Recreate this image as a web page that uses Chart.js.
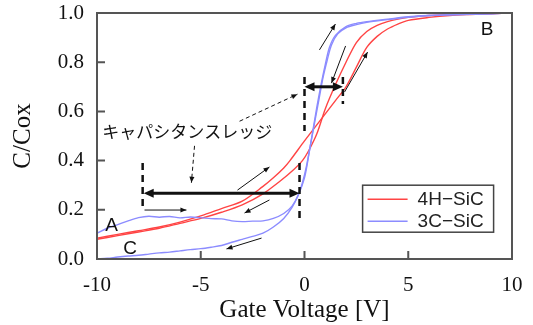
<!DOCTYPE html>
<html>
<head>
    <title>C/Cox vs Gate Voltage</title>
    <script src="https://cdn.jsdelivr.net/npm/chart.js"></script>
    <style>
        html, body { margin: 0; padding: 0; background: #fff; }
        #wrap { width: 533px; height: 325px; }
    </style>
</head>
<body>
    <div id="wrap"><canvas id="cvChart"></canvas></div>

    <script>
        // 4H-SiC, two sweep directions
        const red1X = [-10, -9, -8, -7, -6, -5, -4, -3, -2, -1.5, -1, -0.7, 0, 0.5, 1, 1.5, 2, 2.5, 3, 3.5, 4, 4.5, 5, 6, 7, 8, 9, 10];
        const red1Y = [0.085, 0.1, 0.115, 0.13, 0.15, 0.175, 0.205, 0.235, 0.295, 0.33, 0.37, 0.40, 0.48, 0.535, 0.59, 0.645, 0.70, 0.78, 0.86, 0.905, 0.935, 0.955, 0.97, 0.982, 0.99, 0.994, 0.997, 1.0];
        const red2X = [-10, -9, -8, -7, -6, -5, -4, -3, -2, -1.2, -0.5, -0.1, 0.2, 0.6, 1.0, 1.5, 2.0, 2.5, 3, 3.5, 4, 4.5, 5, 6, 7, 8, 10];
        const red2Y = [0.08, 0.095, 0.11, 0.125, 0.145, 0.165, 0.19, 0.22, 0.265, 0.315, 0.365, 0.40, 0.44, 0.51, 0.61, 0.71, 0.80, 0.88, 0.925, 0.95, 0.965, 0.975, 0.982, 0.99, 0.994, 0.997, 1.0];
        // 3C-SiC, branch from A and branch from C
        const blue1X = [-10, -9.5, -9, -8.5, -8, -7.5, -7, -6.5, -6, -5.5, -5, -4.5, -4, -3.5, -3, -2.5, -2, -1.5, -1, -0.6, -0.3, 0, 0.2, 0.4, 0.6, 0.8, 1.0, 1.2, 1.5, 2, 2.5, 3, 4, 5, 6, 7, 8, 9, 10];
        const blue1Y = [0.105, 0.125, 0.14, 0.155, 0.168, 0.174, 0.17, 0.173, 0.167, 0.171, 0.168, 0.164, 0.163, 0.155, 0.152, 0.154, 0.155, 0.165, 0.185, 0.215, 0.26, 0.33, 0.42, 0.52, 0.62, 0.71, 0.79, 0.86, 0.91, 0.945, 0.958, 0.965, 0.975, 0.985, 0.99, 0.993, 0.995, 0.997, 1.0];
        const blue2X = [-10, -9.5, -9, -8.5, -8, -7.5, -7, -6.5, -6, -5.5, -5, -4.5, -4, -3.5, -3, -2.5, -2, -1.5, -1, -0.6, -0.3, -0.1, 0.1, 0.3, 0.5, 0.7, 0.9, 1.1, 1.3, 1.6, 2, 2.5, 3, 4, 5, 6, 7, 8, 9, 10];
        const blue2Y = [0.0, 0.003, 0.008, 0.012, 0.015, 0.02, 0.025, 0.028, 0.033, 0.038, 0.042, 0.048, 0.055, 0.068, 0.08, 0.092, 0.105, 0.13, 0.165, 0.21, 0.26, 0.31, 0.38, 0.47, 0.56, 0.65, 0.74, 0.81, 0.87, 0.915, 0.94, 0.953, 0.962, 0.973, 0.983, 0.99, 0.993, 0.995, 0.997, 1.0];

        const xTicks = [-10, -5, 0, 5, 10];
        const yTicks = [0, 0.2, 0.4, 0.6, 0.8, 1.0];

        // annotations, in data units [x1, y1, x2, y2]
        const sweepArrows = [
            [0.72, 0.85, 1.49, 0.955],
            [1.98, 0.866, 1.30, 0.715],
            [1.93, 0.679, 3.04, 0.841],
            [-3.23, 0.28, -1.69, 0.374],
            [-1.69, 0.24, -2.89, 0.187],
            [-2.07, 0.085, -3.76, 0.041],
            [-7.71, 0.199, -5.69, 0.199]
        ];
        const ledgeArrows = [
            [-7.75, 0.267, -0.24, 0.267],
            [0.0, 0.70, 1.85, 0.70]
        ];
        const ledgeDashes = [
            [-7.8, 0.39, -7.8, 0.20],
            [-0.24, 0.39, -0.24, 0.16],
            [0.0, 0.74, 0.0, 0.52],
            [1.85, 0.74, 1.85, 0.63]
        ];
        const pointerArrows = [
            [-3.13, 0.56, -0.34, 0.67],
            [-5.3, 0.46, -5.45, 0.31]
        ];
        const ledgeLabel = 'キャパシタンスレッジ';
        const ledgeLabelPos = [-9.75, 0.52];
        const pointLabels = ['A', 'B', 'C'];
        const pointLabelX = [-9.3, 8.8, -8.4];
        const pointLabelY = [0.135, 0.93, 0.04];

        const RED = '#ff4444';
        const BLUE = '#8c8cff';

        function pts(xs, ys) {
            return xs.map((v, i) => ({ x: v, y: ys[i] }));
        }

        function head(ctx, x1, y1, x2, y2, len, w) {
            const a = Math.atan2(y2 - y1, x2 - x1);
            const c = Math.cos(a), s = Math.sin(a);
            ctx.beginPath();
            ctx.moveTo(x2, y2);
            ctx.lineTo(x2 - len * c + w * s, y2 - len * s - w * c);
            ctx.lineTo(x2 - len * c - w * s, y2 - len * s + w * c);
            ctx.closePath();
            ctx.fill();
        }

        const extras = {
            id: 'extras',
            afterDatasetsDraw(chart) {
                const { ctx, chartArea: a, scales: { x, y } } = chart;
                const px = v => x.getPixelForValue(v);
                const py = v => y.getPixelForValue(v);
                ctx.save();

                // frame + inward ticks
                ctx.strokeStyle = '#555';
                ctx.lineWidth = 2;
                ctx.strokeRect(a.left, a.top, a.right - a.left, a.bottom - a.top);
                ctx.beginPath();
                xTicks.forEach(v => { ctx.moveTo(px(v), a.bottom); ctx.lineTo(px(v), a.bottom - 8); });
                yTicks.forEach(v => { ctx.moveTo(a.left, py(v)); ctx.lineTo(a.left + 8, py(v)); });
                ctx.stroke();

                ctx.strokeStyle = '#111';
                ctx.fillStyle = '#111';

                // thin sweep arrows
                ctx.lineWidth = 1;
                sweepArrows.forEach(s => {
                    const [x1, y1, x2, y2] = [px(s[0]), py(s[1]), px(s[2]), py(s[3])];
                    ctx.beginPath(); ctx.moveTo(x1, y1); ctx.lineTo(x2, y2); ctx.stroke();
                    head(ctx, x1, y1, x2, y2, 6, 2.5);
                });

                // thick dashed ledge bounds
                ctx.lineWidth = 2.5;
                ctx.setLineDash([7, 5]);
                ledgeDashes.forEach(s => {
                    ctx.beginPath(); ctx.moveTo(px(s[0]), py(s[1])); ctx.lineTo(px(s[2]), py(s[3])); ctx.stroke();
                });
                ctx.setLineDash([]);

                // double arrows
                ctx.lineWidth = 3;
                ledgeArrows.forEach(s => {
                    const [x1, y1, x2, y2] = [px(s[0]), py(s[1]), px(s[2]), py(s[3])];
                    ctx.beginPath(); ctx.moveTo(x1 + 6, y1); ctx.lineTo(x2 - 6, y2); ctx.stroke();
                    head(ctx, x1, y1, x2, y2, 10, 4.5);
                    head(ctx, x2, y2, x1, y1, 10, 4.5);
                });

                // thin dashed pointers
                ctx.lineWidth = 1;
                ctx.setLineDash([4, 3]);
                pointerArrows.forEach(s => {
                    const [x1, y1, x2, y2] = [px(s[0]), py(s[1]), px(s[2]), py(s[3])];
                    ctx.beginPath(); ctx.moveTo(x1, y1); ctx.lineTo(x2, y2); ctx.stroke();
                });
                ctx.setLineDash([]);
                pointerArrows.forEach(s => {
                    head(ctx, px(s[0]), py(s[1]), px(s[2]), py(s[3]), 6, 2.5);
                });

                // text
                ctx.textBaseline = 'middle';
                ctx.textAlign = 'left';
                ctx.font = '17px "Noto Sans CJK JP"';
                ctx.fillText(ledgeLabel, px(ledgeLabelPos[0]), py(ledgeLabelPos[1]));
                ctx.font = '19px "Liberation Sans"';
                ctx.textAlign = 'center';
                pointLabels.forEach((t, i) => ctx.fillText(t, px(pointLabelX[i]), py(pointLabelY[i])));

                // legend box
                const lx = a.left + (a.right - a.left) * 0.64;
                const ly = a.top + (a.bottom - a.top) * 0.70;
                ctx.strokeStyle = '#444';
                ctx.lineWidth = 1.5;
                ctx.strokeRect(lx, ly, 131, 47);
                const items = [chart.data.datasets[2], chart.data.datasets[0]];
                ctx.textAlign = 'left';
                ctx.fillStyle = '#222';
                items.forEach((d, i) => {
                    const yy = ly + 14 + i * 22;
                    ctx.strokeStyle = d.borderColor;
                    ctx.lineWidth = 1.5;
                    ctx.beginPath(); ctx.moveTo(lx + 5, yy); ctx.lineTo(lx + 45, yy); ctx.stroke();
                    ctx.fillText(d.label, lx + 55, yy + 1);
                });
                ctx.restore();
            }
        };

        const serif = '"Liberation Serif", "Times New Roman", serif';

        new Chart(document.getElementById('cvChart'), {
            type: 'scatter',
            data: {
                datasets: [
                    { label: '3C\u2212SiC', data: pts(blue1X, blue1Y), borderColor: BLUE },
                    { label: '3C\u2212SiC', data: pts(blue2X, blue2Y), borderColor: BLUE },
                    { label: '4H\u2212SiC', data: pts(red1X, red1Y), borderColor: RED },
                    { label: '4H\u2212SiC', data: pts(red2X, red2Y), borderColor: RED }
                ].map(d => Object.assign(d, {
                    showLine: true, pointRadius: 0, borderWidth: 1.4, tension: 0.3, fill: false
                }))
            },
            options: {
                responsive: true,
                maintainAspectRatio: false,
                animation: false,
                layout: { padding: { top: 13, right: 21, left: 0, bottom: 0 } },
                plugins: { legend: { display: false }, tooltip: { enabled: false } },
                scales: {
                    x: {
                        type: 'linear', min: -10, max: 10,
                        afterFit: s => { s.height = 66; s.paddingLeft = 0; s.paddingRight = 0; },
                        afterBuildTicks: s => { s.ticks = xTicks.map(v => ({ value: v })); },
                        grid: { display: false },
                        border: { display: false },
                        ticks: { color: '#111', padding: 6, font: { family: serif, size: 21 } },
                        title: { display: true, text: 'Gate Voltage [V]', color: '#111', padding: { top: 0, bottom: 0 }, font: { family: serif, size: 25 } }
                    },
                    y: {
                        min: 0, max: 1,
                        afterFit: s => { s.width = 97; s.paddingTop = 0; s.paddingBottom = 0; },
                        afterBuildTicks: s => { s.ticks = yTicks.map(v => ({ value: v })); },
                        grid: { display: false },
                        border: { display: false },
                        ticks: { color: '#111', padding: 5, callback: v => v.toFixed(1), font: { family: serif, size: 21 } },
                        title: { display: true, text: 'C/Cox', color: '#111', padding: { top: 8, bottom: 0 }, font: { family: serif, size: 25 } }
                    }
                }
            },
            plugins: [extras]
        });
    </script>
</body>
</html>
